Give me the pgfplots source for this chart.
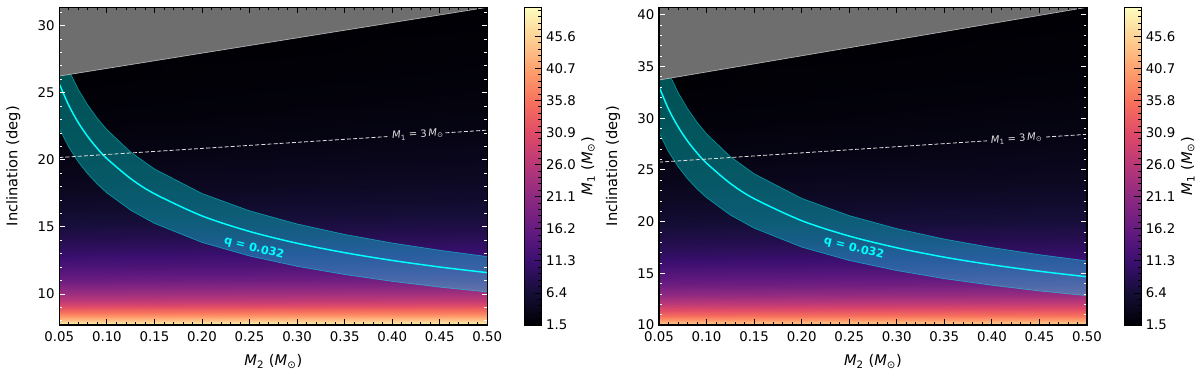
\documentclass[border=0pt]{standalone}
\usepackage{fontspec}
\setmainfont{DejaVu Sans}
\usepackage{pgfplots}
\usepackage{pgfplotstable}
\pgfplotsset{compat=1.18}

\definecolor{grayzone}{RGB}{110,110,110}
\definecolor{grayedge}{RGB}{180,180,180}
\definecolor{qcyan}{RGB}{0,255,255}
\definecolor{dashgray}{RGB}{225,225,225}

\newcommand{\tickfont}{\fontsize{10}{12}\selectfont}
\newcommand{\labfont}{\fontsize{11}{13}\selectfont}
\newcommand{\Msun}{\textit{M}\textsubscript{⊙}}

% M1 (Msun) on a (M2, inclination) grid, clipped to [1.5, 50]
\pgfplotstableread{
x y m
0.05 7.68 49.96
0.275 7.68 50
0.5 7.68 50
0.05 8.0 44.25
0.275 8.0 44.69
0.5 8.0 45.13
0.05 8.5 36.95
0.275 8.5 37.39
0.5 8.5 37.83
0.05 9.0 31.18
0.275 9.0 31.62
0.5 9.0 32.06
0.05 9.5 26.57
0.275 9.5 27.01
0.5 9.5 27.44
0.05 10 22.83
0.275 10 23.27
0.5 10 23.70
0.05 10.5 19.76
0.275 10.5 20.20
0.5 10.5 20.62
0.05 11 17.23
0.275 11 17.67
0.5 11 18.09
0.05 11.5 15.12
0.275 11.5 15.55
0.5 11.5 15.97
0.05 12 13.34
0.275 12 13.77
0.5 12 14.18
0.05 13 10.55
0.275 13 10.98
0.5 13 11.38
0.05 14 8.51
0.275 14 8.93
0.5 14 9.32
0.05 15 6.96
0.275 15 7.38
0.5 15 7.75
0.05 16 5.78
0.275 16 6.19
0.5 16 6.55
0.05 17 4.86
0.275 17 5.26
0.5 17 5.60
0.05 18 4.13
0.275 18 4.53
0.5 18 4.90
0.05 20 3.07
0.275 20 3.45
0.5 20 3.80
0.05 22 2.36
0.275 22 2.71
0.5 22 3.07
0.05 24 1.87
0.275 24 2.23
0.5 24 2.54
0.05 26 1.51
0.275 26 1.86
0.5 26 2.15
0.05 28 1.5
0.275 28 1.59
0.5 28 1.86
0.05 30 1.5
0.275 30 1.5
0.5 30 1.63
0.05 31.37 1.5
0.275 31.37 1.5
0.5 31.37 1.5
}\leftgrid

\pgfplotstableread{
x y m
0.05 10 45.55
0.275 10 45.99
0.5 10 46.43
0.05 10.5 39.42
0.275 10.5 39.86
0.5 10.5 40.30
0.05 11 34.36
0.275 11 34.80
0.5 11 35.24
0.05 11.5 30.13
0.275 11.5 30.57
0.5 11.5 31.01
0.05 12 26.58
0.275 12 27.02
0.5 12 27.45
0.05 12.5 23.57
0.275 12.5 24.01
0.5 12.5 24.44
0.05 13 21.01
0.275 13 21.45
0.5 13 21.87
0.05 14 16.91
0.275 14 17.35
0.5 14 17.77
0.05 15 13.83
0.275 15 14.26
0.5 15 14.68
0.05 16 11.46
0.275 16 11.89
0.5 16 12.29
0.05 17 9.62
0.275 17 10.05
0.5 17 10.44
0.05 18 8.17
0.275 18 8.59
0.5 18 8.97
0.05 20 6.05
0.275 20 6.46
0.5 20 6.82
0.05 22 4.63
0.275 22 5.03
0.5 22 5.36
0.05 24 3.64
0.275 24 4.02
0.5 24 4.30
0.05 26 2.92
0.275 26 3.29
0.5 26 3.65
0.05 28 2.40
0.275 28 2.75
0.5 28 3.10
0.05 30 2.00
0.275 30 2.37
0.5 30 2.69
0.05 33 1.57
0.275 33 1.93
0.5 33 2.22
0.05 36 1.5
0.275 36 1.61
0.5 36 1.88
0.05 38.5 1.5
0.275 38.5 1.5
0.5 38.5 1.67
0.05 40.98 1.5
0.275 40.98 1.5
0.5 40.98 1.5
}\rightgrid

\pgfplotsset{
  panel/.style={
    scale only axis, width=321pt, height=238.25pt, anchor=south west,
    colormap={magma}{rgb255=(0,0,4) rgb255=(20,14,54) rgb255=(59,15,112)
      rgb255=(100,26,128) rgb255=(140,41,129) rgb255=(183,55,121)
      rgb255=(222,73,104) rgb255=(247,112,92) rgb255=(254,159,109)
      rgb255=(254,207,146) rgb255=(252,253,191)},
    point meta min=1.5, point meta max=50,
    xmin=0.05, xmax=0.5,
    xtick={0.05,0.1,0.15,0.2,0.25,0.3,0.35,0.4,0.45,0.5},
    minor xtick={0.05,0.06,...,0.5},
    xticklabel style={yshift=-1.2pt, /pgf/number format/.cd, fixed, fixed zerofill, precision=2},
    tick align=inside,
    major tick length=4.2pt, minor tick length=2.2pt,
    tick style={line width=0.6pt},
    every x tick/.append style={black},
    every y tick/.append style={white},
    axis line style={line width=0.8pt},
    axis on top,
    tick label style={font=\tickfont},
    /pgf/number format/assume math mode=true,
    label style={font=\labfont},
    xlabel={\textit{M}\textsubscript{2} (\Msun)},
    ylabel={Inclination (deg)},
    xlabel style={at={(axis description cs:0.5,0)}, anchor=center, yshift=-27.5pt},
    ylabel style={at={(axis description cs:-0.1075,0.5)}, anchor=center},
    colorbar,
    colorbar style={
      at={(parent axis.north east)}, anchor=north west, xshift=19.5pt,
      scale only axis, width=12.5pt, height=238.25pt,
      ytick={1.5,6.4,11.3,16.2,21.1,26.0,30.9,35.8,40.7,45.6},
      minor ytick={1.5,2.48,...,50},
      ytick pos=right, yticklabel pos=right, tick align=inside,
      major tick length=5pt, minor tick length=2.6pt,
      tick style={black, line width=0.6pt},
      axis line style={line width=0.8pt},
      yticklabel style={font=\tickfont, /pgf/number format/.cd, fixed, fixed zerofill, precision=1, assume math mode=true},
      ylabel={\textit{M}\textsubscript{1} (\Msun)},
      ylabel style={font=\labfont, at={(axis description cs:3.8,0.5)}, anchor=center},
    },
  },
  band/.style={fill=qcyan, fill opacity=0.33, draw=qcyan, draw opacity=0.45, line width=0.5pt},
  qline/.style={qcyan, line width=1.1pt},
  m3line/.style={dashgray, line width=0.6pt, dash pattern=on 3pt off 1.6pt},
}

\begin{document}
\begin{tikzpicture}
\path[use as bounding box] (0,0) rectangle (900pt,282pt);

% ---------------- left panel ----------------
\begin{axis}[panel, at={(44.5pt,38.25pt)}, ymin=7.69, ymax=31.36,
  ytick={10,15,20,25,30}, minor ytick={8,9,...,31}]
  \addplot[surf, shader=interp, mesh/cols=3, point meta=explicit]
    table[x=x, y=y, meta=m] {\leftgrid};
  \addplot[band] coordinates {
    (0.05,28.49) (0.06,26.68) (0.07,25.24) (0.08,24.07) (0.09,23.09) (0.1,22.25)
    (0.125,20.58) (0.15,19.32) (0.2,17.49) (0.25,16.20) (0.3,15.22) (0.35,14.44)
    (0.4,13.80) (0.45,13.26) (0.5,12.79)
    (0.5,10.15) (0.45,10.51) (0.4,10.94) (0.35,11.45) (0.3,12.06) (0.25,12.83)
    (0.2,13.84) (0.15,15.26) (0.125,16.24) (0.1,17.53) (0.09,18.18) (0.08,18.94)
    (0.07,19.83) (0.06,20.93) (0.05,22.31)} -- cycle;
  \addplot[qline, smooth] coordinates {
    (0.05,25.65) (0.06,24.04) (0.07,22.76) (0.08,21.72) (0.09,20.84) (0.1,20.09)
    (0.125,18.60) (0.15,17.47) (0.2,15.82) (0.25,14.66) (0.3,13.78) (0.35,13.08)
    (0.4,12.50) (0.45,12.01) (0.5,11.59)};
  \addplot[m3line] coordinates {(0.05,20.17) (0.395,21.73)};
  \addplot[m3line] coordinates {(0.456,22.01) (0.5,22.21)};
  \addplot[fill=grayzone, draw=grayedge, line width=0.5pt] coordinates {
    (0.05,26.24) (0.5,31.36) (0.5,32) (0.05,32)} -- cycle;
  \node[rotate=-14, text=qcyan, font=\bfseries\fontsize{8.5}{10}\selectfont]
    at (axis cs:0.2547,13.40) {q = 0.032};
  \node[rotate=3.66, text=dashgray, font=\fontsize{7.5}{9}\selectfont, inner sep=0pt]
    at (axis cs:0.427,21.88) {\textit{M}\textsubscript{1} = 3\,\Msun};
\end{axis}

% ---------------- right panel ----------------
\begin{axis}[panel, at={(494.25pt,38.25pt)}, ymin=10, ymax=40.72,
  ytick={10,15,20,25,30,35,40}, minor ytick={11,12,...,40}]
  \addplot[surf, shader=interp, mesh/cols=3, point meta=explicit]
    table[x=x, y=y, meta=m] {\rightgrid};
  \addplot[band] coordinates {
    (0.05,36.94) (0.06,34.45) (0.07,32.50) (0.08,30.93) (0.09,29.61) (0.1,28.49)
    (0.125,26.29) (0.15,24.63) (0.2,22.25) (0.25,20.58) (0.3,19.32) (0.35,18.31)
    (0.4,17.49) (0.45,16.80) (0.5,16.20)
    (0.5,12.83) (0.45,13.29) (0.4,13.84) (0.35,14.48) (0.3,15.26) (0.25,16.24)
    (0.2,17.53) (0.15,19.37) (0.125,20.63) (0.1,22.31) (0.09,23.15) (0.08,24.14)
    (0.07,25.31) (0.06,26.75) (0.05,28.57)} -- cycle;
  \addplot[qline, smooth] coordinates {
    (0.05,33.05) (0.06,30.88) (0.07,29.18) (0.08,27.79) (0.09,26.64) (0.1,25.65)
    (0.125,23.69) (0.15,22.22) (0.2,20.09) (0.25,18.60) (0.3,17.47) (0.35,16.56)
    (0.4,15.82) (0.45,15.20) (0.5,14.66)};
  \addplot[m3line] coordinates {(0.05,25.75) (0.395,27.81)};
  \addplot[m3line] coordinates {(0.457,28.18) (0.5,28.44)};
  \addplot[fill=grayzone, draw=grayedge, line width=0.5pt] coordinates {
    (0.05,33.69) (0.5,40.72) (0.5,41.5) (0.05,41.5)} -- cycle;
  \node[rotate=-14, text=qcyan, font=\bfseries\fontsize{8.5}{10}\selectfont]
    at (axis cs:0.255,17.41) {q = 0.032};
  \node[rotate=3.7, text=dashgray, font=\fontsize{7.5}{9}\selectfont, inner sep=0pt]
    at (axis cs:0.426,28.00) {\textit{M}\textsubscript{1} = 3\,\Msun};
\end{axis}
\end{tikzpicture}
\end{document}
